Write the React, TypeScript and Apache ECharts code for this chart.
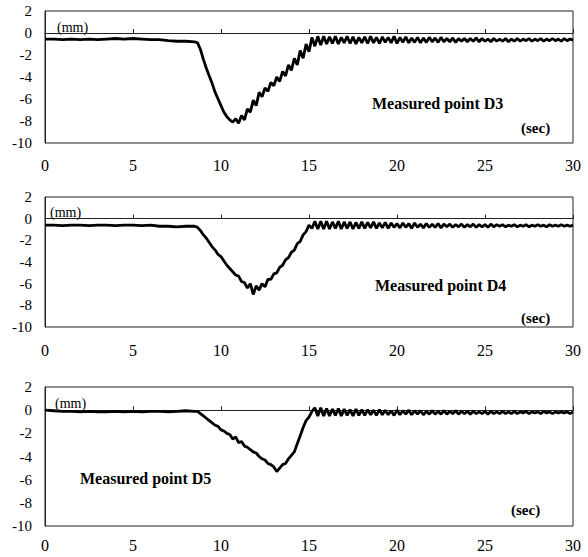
import React, { useEffect, useRef } from "react";
import * as echarts from "echarts";

// x ticks and y ticks
const xTicks = [0, 5, 10, 15, 20, 25, 30];
const yMin = -10;
const yMax = 2;

// Flat segment: t = 0, 0.5, ... 8.0
const flatStep = 0.5;
// Active segment: t = 8.5, 8.5+1/6, ... 30
const activeStart = 8.5;
const activeStep = 1 / 6;

const d3Flat = [-0.55, -0.55, -0.6, -0.55, -0.6, -0.55, -0.6, -0.55, -0.5, -0.55, -0.5, -0.55, -0.6, -0.6, -0.7, -0.75, -0.75];
const d3Active = [
  -0.8, -0.9, -1.5, -2.4, -3.2, -3.9, -4.6, -5.4, -6.0, -6.6,
  -7.2, -7.6, -7.9, -8.1, -7.8, -8.2,
  -7.5, -7.9, -6.9, -7.2, -6.1, -6.6,
  -5.4, -5.8, -5.0, -5.3, -4.5, -4.8,
  -4.0, -4.4, -3.5, -3.9, -2.9, -3.4,
  -2.3, -2.9, -1.6, -2.3, -1.0, -1.7,
  -0.4, -1.2, -0.3, -1.1,
  -0.3, -1.0, -0.35, -0.95, -0.3, -1.0, -0.4, -0.9, -0.3, -0.95, -0.35, -1.0, -0.4, -0.9, -0.35, -0.95,
  -0.3, -0.9, -0.4, -0.95, -0.35, -0.85, -0.4, -0.9, -0.3, -0.95, -0.4, -0.85, -0.35, -0.9, -0.45, -0.85,
  -0.4, -0.9, -0.45, -0.85, -0.4, -0.8, -0.45, -0.85, -0.4, -0.8, -0.5, -0.8, -0.45, -0.85, -0.5, -0.75,
  -0.5, -0.8, -0.5, -0.75, -0.45, -0.8, -0.5, -0.75, -0.55, -0.8, -0.5, -0.75, -0.55, -0.75, -0.5, -0.8,
  -0.55, -0.75, -0.5, -0.75, -0.55, -0.7, -0.5, -0.75, -0.55, -0.7, -0.5, -0.75, -0.55, -0.7, -0.5, -0.7,
  -0.55, -0.75, -0.5, -0.7, -0.55, -0.65,
];

const d4Flat = [-0.6, -0.6, -0.65, -0.6, -0.6, -0.65, -0.6, -0.6, -0.65, -0.6, -0.6, -0.65, -0.6, -0.7, -0.7, -0.75, -0.7];
const d4Active = [
  -0.7, -0.8, -1.1, -1.5, -1.8, -2.2, -2.6, -2.9, -3.3, -3.5,
  -3.9, -4.3, -4.6, -4.9, -5.2, -5.3,
  -5.8, -5.9, -6.4, -6.0, -7.0, -6.2,
  -6.6, -6.0, -6.3, -5.6, -5.6, -5.1,
  -5.0, -4.5, -4.3, -3.8, -3.6, -3.1,
  -2.9, -2.3, -2.1, -1.5, -1.2, -0.6,
  -0.9, -0.25, -0.95, -0.25,
  -0.95, -0.25, -0.95, -0.3, -0.9, -0.25, -0.95, -0.3, -0.9, -0.3, -0.95, -0.35, -0.9, -0.3, -0.9, -0.35,
  -0.85, -0.3, -0.9, -0.4, -0.85, -0.35, -0.9, -0.4, -0.8, -0.45, -0.85, -0.4, -0.8, -0.45, -0.9, -0.4,
  -0.8, -0.5, -0.85, -0.45, -0.8, -0.5, -0.8, -0.45, -0.85, -0.5, -0.75, -0.5, -0.8, -0.55, -0.75, -0.5,
  -0.8, -0.55, -0.75, -0.5, -0.8, -0.55, -0.75, -0.55, -0.8, -0.5, -0.75, -0.55, -0.7, -0.55, -0.75, -0.6,
  -0.7, -0.55, -0.75, -0.6, -0.7, -0.55, -0.75, -0.6, -0.7, -0.55, -0.7, -0.6, -0.75, -0.55, -0.7, -0.6,
  -0.7, -0.55, -0.7, -0.6, -0.7, -0.6,
];

const d5Flat = [0.0, -0.05, -0.1, -0.1, -0.15, -0.1, -0.15, -0.15, -0.1, -0.15, -0.1, -0.15, -0.1, -0.1, -0.15, -0.1, -0.05];
const d5Active = [
  -0.1, -0.1, -0.3, -0.5, -0.7, -0.9, -1.1, -1.3, -1.4, -1.7,
  -1.8, -2.0, -2.1, -2.5, -2.3, -2.8,
  -2.7, -3.1, -3.2, -3.4, -3.6, -3.7,
  -4.0, -4.2, -4.3, -4.6, -4.7, -4.9,
  -5.3, -5.0, -4.7, -4.6, -4.2, -3.9,
  -3.6, -2.9, -2.2, -1.5, -0.9, -0.6,
  -0.1, 0.2, -0.5, 0.2,
  -0.5, 0.15, -0.5, 0.1, -0.45, 0.15, -0.5, 0.1, -0.45, 0.05, -0.5, 0.1, -0.45, 0.05, -0.45, 0.05,
  -0.4, 0.0, -0.45, 0.05, -0.4, 0.0, -0.4, -0.05, -0.45, 0.0, -0.4, -0.05, -0.35, 0.0, -0.4, -0.05,
  -0.35, -0.05, -0.4, -0.1, -0.35, -0.05, -0.35, -0.1, -0.35, -0.05, -0.35, -0.1, -0.3, -0.05, -0.35, -0.1,
  -0.3, -0.1, -0.35, -0.1, -0.3, -0.15, -0.3, -0.1, -0.35, -0.1, -0.3, -0.15, -0.3, -0.1, -0.3, -0.15,
  -0.3, -0.1, -0.3, -0.15, -0.25, -0.1, -0.3, -0.15, -0.25, -0.15, -0.3, -0.1, -0.25, -0.15, -0.3, -0.15,
  -0.25, -0.15, -0.25, -0.15, -0.3, -0.15,
];

const panelTitles = ["Measured point D3", "Measured point D4", "Measured point D5"];
const yUnit = "(mm)";
const xUnit = "(sec)";

function buildSeries(flat: number[], active: number[]) {
  const pts: [number, number][] = [];
  flat.forEach((v, i) => pts.push([i * flatStep, v]));
  active.forEach((v, k) => pts.push([+(activeStart + k * activeStep).toFixed(4), v]));
  return pts;
}

const FONT = "Liberation Serif";

export default function App() {
  const ref = useRef<HTMLDivElement>(null);
  useEffect(() => {
    document.body.style.margin = "0";
    const chart = echarts.init(ref.current!, undefined, { renderer: "svg" });
    const grids = [
      { left: 45, top: 11, width: 528, height: 132, xMargin: 14 },
      { left: 45, top: 197, width: 528, height: 130, xMargin: 15 },
      { left: 45, top: 387, width: 528, height: 139, xMargin: 11 },
    ];
    const datasets = [
      buildSeries(d3Flat, d3Active),
      buildSeries(d4Flat, d4Active),
      buildSeries(d5Flat, d5Active),
    ];
    const titlePos = [
      { x: 372, y: 103 },
      { x: 375, y: 285 },
      { x: 80, y: 478 },
    ];
    const mmPos = [
      { x: 57, y: 27 },
      { x: 50, y: 212 },
      { x: 55, y: 403 },
    ];
    const secPos = [
      { x: 521, y: 128 },
      { x: 521, y: 318 },
      { x: 511, y: 510 },
    ];
    const txt = (x: number, y: number, text: string, size: number, weight: string) => ({
      type: "text",
      x,
      y,
      style: {
        text,
        fontSize: size,
        fontFamily: FONT,
        fontWeight: weight,
        fill: "#000",
        textVerticalAlign: "middle",
      },
    });
    const option: any = {
      animation: false,
      grid: grids.map((g) => ({
        left: g.left,
        top: g.top,
        width: g.width,
        height: g.height,
        show: true,
        borderColor: "#222",
        borderWidth: 1,
        backgroundColor: "transparent",
      })),
      xAxis: grids.map((g, i) => ({
        type: "value",
        gridIndex: i,
        min: xTicks[0],
        max: xTicks[xTicks.length - 1],
        interval: 5,
        axisLine: { show: true, lineStyle: { color: "#222", width: 1 } },
        axisTick: { show: true, inside: true, length: 4, lineStyle: { color: "#222" } },
        splitLine: { show: false },
        axisLabel: {
          margin: g.xMargin,
          fontSize: 16,
          fontFamily: FONT,
          color: "#000",
        },
      })),
      yAxis: grids.map((g, i) => ({
        type: "value",
        gridIndex: i,
        min: yMin,
        max: yMax,
        interval: 2,
        axisLine: { show: true, lineStyle: { color: "#222", width: 1 } },
        axisTick: { show: false },
        splitLine: { show: false },
        axisLabel: {
          margin: 13,
          fontSize: 15,
          fontFamily: FONT,
          color: "#000",
        },
      })),
      series: datasets.map((d, i) => ({
        type: "line",
        xAxisIndex: i,
        yAxisIndex: i,
        data: d,
        showSymbol: false,
        symbol: "none",
        lineStyle: { color: "#000", width: 2.8 },
      })),
      graphic: [
        ...panelTitles.map((t, i) => txt(titlePos[i].x, titlePos[i].y, t, 16, "bold")),
        ...mmPos.map((p) => txt(p.x, p.y, yUnit, 14, "normal")),
        ...secPos.map((p) => txt(p.x, p.y, xUnit, 15, "bold")),
      ],
    };
    chart.setOption(option);
    return () => chart.dispose();
  }, []);
  return (
    <div
      ref={ref}
      style={{ position: "absolute", left: 0, top: 0, width: 588, height: 557, background: "#fff" }}
    />
  );
}
